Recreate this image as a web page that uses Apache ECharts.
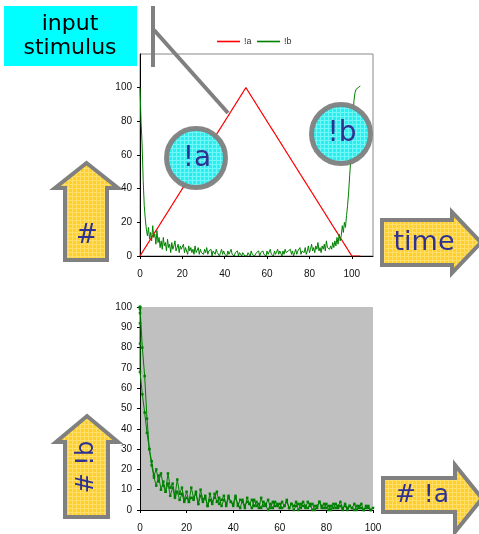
<!DOCTYPE html>
<html>
<head>
<meta charset="utf-8">
<script src="https://cdn.jsdelivr.net/npm/echarts@6/dist/echarts.min.js"></script>
<style>
  html, body { margin: 0; padding: 0; background: #fff; }
  #main { width: 479px; height: 534px; }
</style>
</head>
<body>
<div id="main"></div>
<script>
// sampled every half time unit, t = 0 .. 104
var timeStep = 0.5;

// input stimulus !a (red triangle)
var stimA = [
  0, 1, 2, 3, 4, 5, 6, 7, 8, 9, 10, 11, 12, 13, 14, 15, 16, 17, 18, 19,
  20, 21, 22, 23, 24, 25, 26, 27, 28, 29, 30, 31, 32, 33, 34, 35, 36, 37, 38, 39,
  40, 41, 42, 43, 44, 45, 46, 47, 48, 49, 50, 51, 52, 53, 54, 55, 56, 57, 58, 59,
  60, 61, 62, 63, 64, 65, 66, 67, 68, 69, 70, 71, 72, 73, 74, 75, 76, 77, 78, 79,
  80, 81, 82, 83, 84, 85, 86, 87, 88, 89, 90, 91, 92, 93, 94, 95, 96, 97, 98, 99,
  100, 99, 98, 97, 96, 95, 94, 93, 92, 91, 90, 89, 88, 87, 86, 85, 84, 83, 82, 81,
  80, 79, 78, 77, 76, 75, 74, 73, 72, 71, 70, 69, 68, 67, 66, 65, 64, 63, 62, 61,
  60, 59, 58, 57, 56, 55, 54, 53, 52, 51, 50, 49, 48, 47, 46, 45, 44, 43, 42, 41,
  40, 39, 38, 37, 36, 35, 34, 33, 32, 31, 30, 29, 28, 27, 26, 25, 24, 23, 22, 21,
  20, 19, 18, 17, 16, 15, 14, 13, 12, 11, 10, 9, 8, 7, 6, 5, 4, 3, 2, 1,
  0, 0, 0, 0, 0, 0, 0, 0, 0
];

// response count !b (green, noisy)
var countB = [
  100, 80, 66, 45, 30, 22, 16, 12, 17, 10,
  14, 9, 18, 11, 13, 7, 15, 8, 11, 5,
  9, 4, 11, 6, 8, 3, 10, 5, 7, 2,
  8, 4, 6, 9, 3, 5, 7, 2, 6, 4,
  3, 7, 2, 5, 4, 1, 6, 3, 5, 2,
  4, 1, 6, 2, 3, 5, 1, 4, 2, 3,
  1, 4, 2, 5, 1, 3, 2, 4, 0, 3,
  2, 1, 4, 2, 3, 0, 2, 4, 1, 3,
  1, 2, 0, 3, 1, 2, 4, 1, 2, 0,
  2, 1, 3, 0, 2, 1, 0, 2, 1, 0,
  1, 0, 2, 1, 0, 3, 1, 2, 0, 1,
  2, 1, 3, 0, 2, 1, 3, 1, 2, 0,
  3, 1, 2, 4, 1, 2, 0, 3, 1, 2,
  4, 1, 3, 2, 0, 3, 1, 4, 2, 1,
  3, 2, 4, 1, 3, 0, 2, 4, 1, 3,
  2, 5, 1, 3, 4, 2, 5, 1, 3, 6,
  2, 4, 7, 3, 5, 2, 6, 4, 8, 3,
  5, 2, 6, 4, 7, 3, 9, 5, 6, 4,
  6, 4, 8, 5, 9, 6, 11, 7, 13, 9,
  12, 18, 14, 20, 17, 24, 30, 38, 48, 57,
  68, 82, 92, 97, 99, 100, 100, 101, 101
];

var topTicks = [0, 20, 40, 60, 80, 100];
var seriesNames = ['!a', '!b'];
var seriesColors = ['#FF0000', '#008000'];

var seriesA = stimA.map(function (v, i) { return [i * timeStep, v]; });
var seriesB = countB.map(function (v, i) { return [i * timeStep, v]; });
var phase = countB.map(function (v, i) { return [stimA[i], v]; });

// light grid texture like the original clip-art fill
function gridPattern(base, line) {
  var c = document.createElement('canvas');
  c.width = 4; c.height = 4;
  var ctx = c.getContext('2d');
  ctx.fillStyle = base;
  ctx.fillRect(0, 0, 4, 4);
  ctx.fillStyle = line;
  ctx.fillRect(0, 0, 4, 1);
  ctx.fillRect(0, 0, 1, 4);
  return { image: c, repeat: 'repeat' };
}
var gold = gridPattern('#FFD02A', '#FFDF6A');
var cyan = gridPattern('#1CF0F0', '#6AF7F7');

var grey = '#808080';
var ink = '#2E3192';
var handFont = '"DejaVu Sans", sans-serif';
var tickFont = { fontFamily: '"Liberation Sans Narrow", "Liberation Sans", Arial', fontSize: 10, color: '#111' };

function arrowUp(x1, x2, hx1, hx2, tipY, baseY, bottom) {
  var mid = (hx1 + hx2) / 2;
  return [[x1, bottom], [x1, baseY], [hx1, baseY], [mid, tipY], [hx2, baseY], [x2, baseY], [x2, bottom]];
}
function arrowRight(left, bodyTop, bodyBot, headX, headTop, headBot, tipX) {
  var mid = (headTop + headBot) / 2;
  return [[left, bodyTop], [headX, bodyTop], [headX, headTop], [tipX, mid], [headX, headBot], [headX, bodyBot], [left, bodyBot]];
}

// small excel-style legend: line swatch + name
var legendItems = [];
seriesNames.forEach(function (name, i) {
  var x0 = 217 + i * 40;
  legendItems.push({ type: 'line', z: 50, shape: { x1: x0, y1: 41.5, x2: x0 + 23, y2: 41.5 }, style: { stroke: seriesColors[i], lineWidth: 1.6 } });
  legendItems.push({ type: 'text', z: 50, x: x0 + 27, y: 42, style: { text: name, font: '9px "Liberation Sans"', fill: '#333', verticalAlign: 'middle' } });
});

var chart = echarts.init(document.getElementById('main'));

var option = {
  animation: false,
  backgroundColor: '#fff',
  grid: [
    { left: 140, top: 54, width: 233, height: 202, show: true, backgroundColor: '#fff', borderColor: '#888', borderWidth: 1 },
    { left: 140, top: 307, width: 233, height: 203, show: true, backgroundColor: '#C0C0C0', borderWidth: 0 }
  ],
  xAxis: [
    {
      gridIndex: 0, type: 'value', min: 0, max: 110, interval: 10,
      axisLine: { lineStyle: { color: '#000' } },
      axisTick: { length: 3, customValues: topTicks, lineStyle: { color: '#000' } },
      axisLabel: Object.assign({ margin: 13, customValues: topTicks }, tickFont),
      splitLine: { show: false }
    },
    {
      gridIndex: 1, type: 'value', min: 0, max: 100, interval: 20,
      axisLine: { lineStyle: { color: '#000' } },
      axisTick: { length: 3, lineStyle: { color: '#000' } },
      axisLabel: Object.assign({ margin: 13 }, tickFont),
      splitLine: { show: false }
    }
  ],
  yAxis: [
    {
      gridIndex: 0, type: 'value', min: 0, max: 120, interval: 20,
      axisLine: { show: true, lineStyle: { color: '#000' } },
      axisTick: { show: true, length: 3, customValues: topTicks, lineStyle: { color: '#000' } },
      axisLabel: Object.assign({ margin: 8, customValues: topTicks }, tickFont),
      splitLine: { show: false }
    },
    {
      gridIndex: 1, type: 'value', min: 0, max: 100, interval: 10,
      axisLine: { show: true, lineStyle: { color: '#000' } },
      axisTick: { show: true, length: 3, lineStyle: { color: '#000' } },
      axisLabel: Object.assign({ margin: 8 }, tickFont),
      splitLine: { show: false }
    }
  ],
  series: [
    {
      name: seriesNames[0], type: 'line', xAxisIndex: 0, yAxisIndex: 0,
      data: seriesA, symbol: 'none',
      itemStyle: { color: seriesColors[0] },
      lineStyle: { color: seriesColors[0], width: 1.2 }
    },
    {
      name: seriesNames[1], type: 'line', xAxisIndex: 0, yAxisIndex: 0,
      data: seriesB, symbol: 'none',
      itemStyle: { color: seriesColors[1] },
      lineStyle: { color: seriesColors[1], width: 1 }
    },
    {
      name: 'phase', type: 'line', xAxisIndex: 1, yAxisIndex: 1,
      data: phase, symbol: 'rect', symbolSize: 2.5, showSymbol: true,
      itemStyle: { color: seriesColors[1] },
      lineStyle: { color: seriesColors[1], width: 1 }
    }
  ],
  graphic: legendItems.concat([
    // input stimulus label + pointer
    { type: 'rect', z: 100, shape: { x: 4, y: 6, width: 133, height: 60 }, style: { fill: '#00FFFF' } },
    { type: 'text', z: 101, x: 70, y: 24, style: { text: 'input', font: '22px ' + handFont, fill: '#000', align: 'center', verticalAlign: 'middle' } },
    { type: 'text', z: 101, x: 70, y: 48, style: { text: 'stimulus', font: '22px ' + handFont, fill: '#000', align: 'center', verticalAlign: 'middle' } },
    { type: 'line', z: 100, shape: { x1: 153, y1: 6, x2: 153, y2: 67 }, style: { stroke: grey, lineWidth: 4 } },
    { type: 'line', z: 100, shape: { x1: 154, y1: 30, x2: 228, y2: 113 }, style: { stroke: grey, lineWidth: 4 } },

    // circles
    { type: 'circle', z: 100, shape: { cx: 196, cy: 158, r: 29.5 }, style: { fill: cyan, stroke: grey, lineWidth: 5, opacity: 0.95 } },
    { type: 'text', z: 101, x: 197, y: 159, style: { text: '!a', font: '28px ' + handFont, fill: ink, align: 'center', verticalAlign: 'middle' } },
    { type: 'circle', z: 100, shape: { cx: 341, cy: 134, r: 29.5 }, style: { fill: cyan, stroke: grey, lineWidth: 5, opacity: 0.95 } },
    { type: 'text', z: 101, x: 342, y: 134, style: { text: '!b', font: '28px ' + handFont, fill: ink, align: 'center', verticalAlign: 'middle' } },

    // arrows
    { type: 'polygon', z: 100, shape: { points: arrowUp(65, 107, 55, 118, 163, 188, 260) }, style: { fill: gold, stroke: grey, lineWidth: 4, lineJoin: 'miter' } },
    { type: 'text', z: 101, x: 87, y: 236, style: { text: '#', font: '26px ' + handFont, fill: ink, align: 'center', verticalAlign: 'middle' } },

    { type: 'polygon', z: 100, shape: { points: arrowRight(382, 220, 265, 452, 212, 273, 481) }, style: { fill: gold, stroke: grey, lineWidth: 4, lineJoin: 'miter' } },
    { type: 'text', z: 101, x: 424, y: 243, style: { text: 'time', font: '27px ' + handFont, fill: ink, align: 'center', verticalAlign: 'middle' } },

    { type: 'polygon', z: 100, shape: { points: arrowUp(65, 108, 56, 118, 416, 442, 517) }, style: { fill: gold, stroke: grey, lineWidth: 4, lineJoin: 'miter' } },
    { type: 'text', z: 101, x: 87, y: 467, rotation: Math.PI / 2, style: { text: '# !b', font: '24px ' + handFont, fill: ink, align: 'center', verticalAlign: 'middle' } },

    { type: 'polygon', z: 100, shape: { points: arrowRight(383, 478, 512, 455, 465, 532, 482) }, style: { fill: gold, stroke: grey, lineWidth: 4, lineJoin: 'miter' } },
    { type: 'text', z: 101, x: 422, y: 495, style: { text: '# !a', font: '25px ' + handFont, fill: ink, align: 'center', verticalAlign: 'middle' } }
  ])
};

chart.setOption(option);
</script>
</body>
</html>
